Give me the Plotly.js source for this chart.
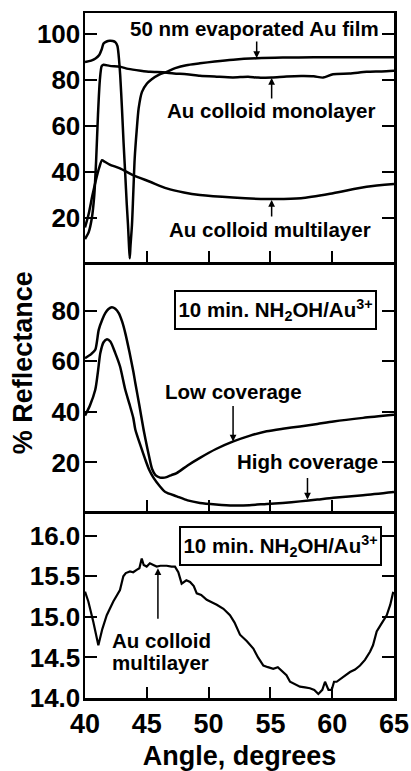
<!DOCTYPE html>
<html>
<head>
<meta charset="utf-8">
<script src="https://cdn.plot.ly/plotly-3.0.1.min.js"></script>
<style>html,body{margin:0;padding:0;background:#fff;}#plot{width:411px;height:771px;}</style>
</head>
<body>
<div id="plot"></div>
<script>
// ---------- Top panel (Au film / colloid monolayer / multilayer) ----------
const filmAngle = [40, 40.5, 40.85, 41.15, 41.35, 41.5, 41.75, 42.0, 42.25, 42.45,
  42.62, 42.72, 42.85, 42.99, 43.12, 43.26, 43.38, 43.48, 43.56, 43.62,
  43.68, 43.8, 43.9, 44.02, 44.18, 44.34, 44.61, 45.0, 45.4, 46.0,
  46.61, 47.3, 48.2, 49.3, 50.5, 52.0, 53.89, 56.0, 58.5, 61.5, 65];
const filmR = [88.0, 88.6, 89.5, 91.0, 93.5, 96.0, 96.9, 97.2, 97.1, 96.6,
  95.0, 91.0, 82.0, 67.8, 53.0, 38.8, 26.0, 17.1, 8.0, 2.6,
  8.0, 17.1, 30.0, 46.0, 58.0, 67.8, 75.0, 78.5, 80.5, 82.5,
  83.7, 85.3, 86.6, 87.4, 88.2, 89.0, 89.6, 89.9, 90.0, 90.0, 90.0];

const monoAngle = [40.0, 40.3, 40.55, 40.75, 40.9, 41.05, 41.2, 41.35, 41.5, 42.0,
  42.83, 43.5, 44.5, 45.26, 46.31, 47.2, 48.23, 49.3, 50.66, 51.97,
  53.2, 54.0, 55.11, 56.3, 57.48, 58.5, 59.26, 60.07, 61.4, 62.79, 64.0, 65];
const monoR = [11, 14, 20, 30, 45, 65, 80, 86.2, 86.8, 86.3,
  85.9, 85.0, 84.2, 83.7, 83.5, 83.0, 82.7, 82.0, 81.6, 81.3,
  81.6, 81.2, 81.3, 81.7, 81.9, 81.8, 81.2, 82.7, 83.0, 83.7, 83.9, 84.2];

const multiAngle = [40, 40.3, 40.6, 40.9, 41.15, 41.38, 41.6, 42.0, 42.83, 43.88,
  45.26, 46.61, 48.0, 49.3, 51.97, 54.7, 57.48, 60.07, 62.79, 65];
const multiR = [16, 22, 30, 37, 42, 45.3, 44.6, 43.4, 41.7, 38.8,
  35.9, 33.0, 31.2, 30.1, 29.0, 28.4, 28.7, 30.9, 33.7, 34.9];

// ---------- Middle panel (10 min NH2OH/Au3+) ----------
const lowAngle = [40, 40.5, 40.83, 41.11, 41.4, 41.64, 41.9, 42.17, 42.45, 42.73,
  43.0, 43.26, 43.6, 43.91, 44.07, 44.4, 44.72, 44.88, 45.2, 45.42,
  45.7, 46.07, 46.3, 46.6, 47.0, 47.42, 48.3, 49.3, 50.6, 52.0,
  53.3, 54.7, 56.0, 57.4, 58.8, 60.1, 62.5, 65];
const lowR = [61.2, 62.8, 64.5, 72.4, 76.5, 79.0, 80.6, 81.3, 80.7, 79.0,
  75.7, 71.1, 63.5, 55.9, 51.4, 42.5, 33.5, 29.5, 22.0, 17.5,
  15.0, 14.0, 13.9, 14.2, 15.0, 15.8, 18.8, 21.8, 25.3, 28.3,
  30.5, 32.3, 33.3, 34.2, 35.2, 36.2, 37.6, 38.8];

const highAngle = [40, 40.4, 40.83, 41.05, 41.24, 41.5, 41.78, 42.05, 42.45, 42.83,
  43.26, 43.6, 43.91, 44.07, 44.5, 44.88, 45.2, 45.55, 46.07, 46.5,
  47.42, 48.3, 49.3, 50.6, 52.0, 53.3, 54.7, 56.0, 57.4, 58.8,
  60.1, 62.5, 65];
const highR = [38.5, 42.5, 48.7, 56.0, 63.2, 67.5, 68.7, 67.8, 63.2, 58.0,
  48.7, 43.0, 37.5, 33.0, 26.5, 21.1, 17.0, 13.9, 10.5, 8.3,
  6.6, 5.0, 4.0, 3.4, 3.0, 3.1, 3.6, 4.0, 4.6, 5.3,
  6.0, 7.0, 8.3];

// ---------- Bottom panel (colloid multilayer, expanded scale) ----------
const botAngle = [40, 40.27, 40.67, 41.08, 41.4, 41.76, 42.29, 42.83, 43.1, 43.3,
  43.64, 43.9, 44.18, 44.4, 44.59, 44.75, 44.99, 45.25, 45.53, 45.8,
  46.1, 46.61, 47.0, 47.28, 47.55, 47.82, 48.2, 48.5, 48.8, 49.04,
  49.4, 49.85, 50.25, 50.66, 51.2, 51.73, 52.1, 52.54, 53.1, 53.62,
  54.0, 54.43, 54.8, 55.23, 55.6, 56.04, 56.3, 56.59, 57.0, 57.39,
  57.8, 58.2, 58.55, 58.88, 59.2, 59.42, 59.7, 59.96, 60.15, 60.36,
  60.9, 61.44, 61.85, 62.25, 62.65, 63.06, 63.3, 63.6, 64.0, 64.41, 64.7, 64.94];
const botR = [15.31, 15.19, 14.94, 14.65, 14.85, 15.02, 15.19, 15.33, 15.50, 15.54,
  15.56, 15.55, 15.58, 15.60, 15.72, 15.64, 15.62, 15.66, 15.64, 15.62,
  15.63, 15.63, 15.62, 15.62, 15.55, 15.41, 15.45, 15.43, 15.38, 15.29,
  15.27, 15.21, 15.18, 15.15, 15.10, 15.02, 14.93, 14.78, 14.70, 14.61,
  14.50, 14.40, 14.38, 14.36, 14.38, 14.32, 14.28, 14.20, 14.17, 14.14,
  14.13, 14.12, 14.10, 14.05, 14.10, 14.20, 14.10, 14.10, 14.20, 14.20,
  14.26, 14.32, 14.35, 14.40, 14.47, 14.57, 14.65, 14.82, 14.92, 15.02, 15.15, 15.31];

const xTicks = [40, 45, 50, 55, 60, 65];
const topTicks = [20, 40, 60, 80, 100];
const midTicks = [20, 40, 60, 80];
const botTicks = [14.0, 14.5, 15.0, 15.5, 16.0];

const FONT = 'Arial, "Liberation Sans", Helvetica, sans-serif';
const lineS = {color: '#000', width: 2.5, shape: 'spline', smoothing: 0.7};

const traces = [
  {x: filmAngle, y: filmR, xaxis: 'x3', yaxis: 'y3', mode: 'lines', line: lineS},
  {x: monoAngle, y: monoR, xaxis: 'x3', yaxis: 'y3', mode: 'lines', line: lineS},
  {x: multiAngle, y: multiR, xaxis: 'x3', yaxis: 'y3', mode: 'lines', line: lineS},
  {x: lowAngle, y: lowR, xaxis: 'x2', yaxis: 'y2', mode: 'lines', line: lineS},
  {x: highAngle, y: highR, xaxis: 'x2', yaxis: 'y2', mode: 'lines', line: lineS},
  {x: botAngle, y: botR, xaxis: 'x', yaxis: 'y', mode: 'lines', line: {color: '#000', width: 2.2}}
];

const LW = 2.5;
function xAx(anchor, labels, line, mirror, extra) {
  return Object.assign({
    anchor: anchor, range: [40, 65], tickvals: xTicks, showticklabels: labels,
    ticks: 'inside', ticklen: 11, tickwidth: 2, tickcolor: '#000',
    showline: line, linewidth: LW, linecolor: '#000', mirror: mirror,
    showgrid: false, zeroline: false, fixedrange: true,
    tickfont: {family: FONT, size: 27, color: '#000', weight: 'bold'}
  }, extra || {});
}
function yAx(anchor, domain, range, vals, fmt) {
  return {
    anchor: anchor, domain: domain, range: range, tickvals: vals,
    tickformat: fmt || '', ticks: 'inside', ticklen: 12, tickwidth: 2, tickcolor: '#000',
    showline: true, linewidth: LW, linecolor: '#000', mirror: 'ticks',
    showgrid: false, zeroline: false, fixedrange: true, ticklabelstandoff: -3,
    tickfont: {family: FONT, size: 26, color: '#000', weight: 'bold'}
  };
}

const ax = xAx('y', true, true, false);
ax.title = {text: 'Angle, degrees', font: {family: FONT, size: 27, color: '#000', weight: 'bold'}, standoff: 14};

const aFont = {family: FONT, size: 20.5, color: '#000', weight: 'bold'};
function label(text, x, y, xr, yr, extra) {
  return Object.assign({text: text, x: x, y: y, xref: xr, yref: yr, showarrow: false, font: aFont}, extra || {});
}
function arrow(x, y, xr, yr, dy) {
  return {text: '', x: x, y: y, xref: xr, yref: yr, showarrow: true, ax: 0, ay: dy,
    arrowhead: 2, arrowsize: 0.9, arrowwidth: 1.5, arrowcolor: '#000', standoff: 0};
}
const boxText = '10 min. NH<sub>2</sub>OH/Au<sup>3+</sup>';
const boxStyle = {bordercolor: '#000', borderwidth: 2, borderpad: 2, bgcolor: '#fff', width: 195, height: 32};

const D1 = 187 / 685, D2 = 436 / 685;

const layout = {
  width: 411, height: 771,
  margin: {l: 85, r: 17, t: 13, b: 73},
  paper_bgcolor: '#fff', plot_bgcolor: '#fff',
  showlegend: false,
  font: {family: FONT, color: '#000'},
  xaxis: ax,
  xaxis4: xAx('y', false, false, false, {overlaying: 'x', side: 'top'}),
  xaxis2: xAx('y2', false, true, false),
  xaxis5: xAx('y2', false, false, false, {overlaying: 'x2', side: 'top'}),
  xaxis3: xAx('y3', false, true, true),
  yaxis: yAx('x', [0, D1], [14.0, 16.305], botTicks, '.1f'),
  yaxis2: yAx('x2', [D1, D2], [0.8, 99.2], midTicks),
  yaxis3: yAx('x3', [D2, 1], [1, 109.3], topTicks),
  annotations: [
    label('50 nm evaporated Au film', 53.71, 102.7, 'x3', 'y3'),
    arrow(53.89, 89.7, 'x3', 'y3', -18),
    label('Au colloid monolayer', 55.05, 67.1, 'x3', 'y3'),
    arrow(55.1, 81.0, 'x3', 'y3', 22),
    label('Au colloid multilayer', 54.97, 15.3, 'x3', 'y3'),
    arrow(55.1, 28.0, 'x3', 'y3', 18),
    label(boxText, 55.41, 80.3, 'x2', 'y2', boxStyle),
    label('Low coverage', 52.03, 48.0, 'x2', 'y2'),
    arrow(51.98, 28.3, 'x2', 'y2', -37),
    label('High coverage', 58.02, 20.2, 'x2', 'y2'),
    arrow(58.0, 5.3, 'x2', 'y2', -23),
    label(boxText, 55.78, 15.874, 'x', 'y', boxStyle),
    label('Au colloid', 42.02, 14.705, 'x', 'y', {xanchor: 'left'}),
    label('multilayer', 42.02, 14.44, 'x', 'y', {xanchor: 'left'}),
    arrow(45.9, 15.60, 'x', 'y', 52),
    {text: '% Reflectance', textangle: -90, x: -0.2, y: 0.489, xref: 'paper', yref: 'paper',
      xanchor: 'center', yanchor: 'middle',
      showarrow: false, font: {family: FONT, size: 27, color: '#000', weight: 'bold'}}
  ]
};

Plotly.newPlot('plot', traces, layout, {staticPlot: true, displayModeBar: false});
</script>
</body>
</html>
